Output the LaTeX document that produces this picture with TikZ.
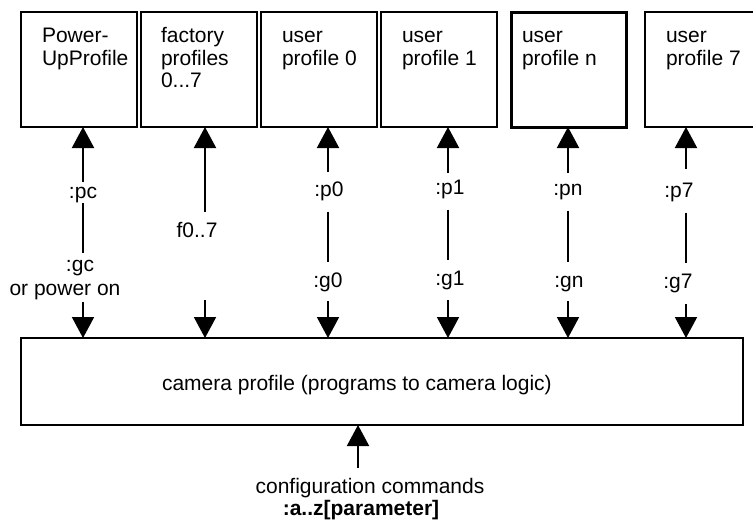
\documentclass[tikz,border=0pt]{standalone}
\usepackage{fontspec}
\setmainfont{Liberation Sans}
\usetikzlibrary{arrows.meta,calc}
\begin{document}
\begin{tikzpicture}[x=1pt,y=1pt,
  every node/.style={font=\fontsize{21}{22.5}\selectfont, inner sep=0pt, outer sep=0pt},
  pbox/.style={draw, minimum width=116pt, minimum height=115pt, anchor=north west},
  dbl/.style={line width=2.8pt},
  btxt/.style={anchor=north west, align=left},
  lbl/.style={anchor=base, text height=11pt, text depth=4.5pt},
  arr/.style={line width=2pt, -{Triangle[length=21pt,width=22pt]}},
  vline/.style={line width=1.6pt, shorten <=11pt, shorten >=14pt}]
\useasboundingbox (0,0) rectangle (753,-525);
\clip (0,0) rectangle (753,-525);
% top boxes
\node[pbox,dbl] (b1) at (21,-12) {};
\node[pbox,dbl] (b2) at (141,-12) {};
\node[pbox,dbl] (b3) at (261,-12) {};
\node[pbox,dbl] (b4) at (381,-12) {};
\node[pbox,line width=3pt,minimum width=115pt] (b5) at (511,-12) {};
\node[pbox,line width=1.8pt] (b6) at (645,-12) {};
\node[btxt] (t1) at (42,-26.75) {\strut Power-\\UpProfile};
\node[btxt] (t2) at (161,-26.75) {\strut factory\\profiles\\0...7};
\node[btxt] (t3) at (282,-26.75) {\strut user\\profile 0};
\node[btxt] (t4) at (402,-26.75) {\strut user\\profile 1};
\node[btxt] (t5) at (522,-26.75) {\strut user\\profile n};
\node[btxt] (t6) at (666,-26.75) {\strut user\\profile 7};
% camera box
\node[draw, line width=2pt, minimum width=722pt, minimum height=87pt, anchor=north west] (cam) at (21,-338) {};
\node[anchor=base west] (camt) at (162,-390) {camera profile (programs to camera logic)};
% column coordinates
\coordinate (u1) at (83,-182);
\coordinate (u2) at (205,-212);
\coordinate (u3) at (328,-172);
\coordinate (u4) at (448,-173);
\coordinate (u5) at (568,-173);
\coordinate (u6) at (686,-169);
\coordinate (d1) at (83,-302);
\coordinate (d2) at (205,-300);
\coordinate (d3) at (328,-301);
\coordinate (d4) at (448,-300);
\coordinate (d5) at (568,-301);
\coordinate (d6) at (686,-304);
% up arrows
\draw[arr] (u1) -- (u1 |- b1.south);
\draw[arr] (u2) -- (u2 |- b2.south);
\draw[arr] (u3) -- (u3 |- b3.south);
\draw[arr] (u4) -- (u4 |- b4.south);
\draw[arr] (u5) -- (u5 |- b5.south);
\draw[arr] (u6) -- (u6 |- b6.south);
% down arrows
\draw[arr] (d1) -- (d1 |- cam.north);
\draw[arr] (d2) -- (d2 |- cam.north);
\draw[arr] (d3) -- (d3 |- cam.north);
\draw[arr] (d4) -- (d4 |- cam.north);
\draw[arr] (d5) -- (d5 |- cam.north);
\draw[arr] (d6) -- (d6 |- cam.north);
% labels
\node[lbl] (pc) at (83,-198) {:pc};
\node[lbl] (gc) at (80,-271) {:gc};
\node[lbl] (pw) at (65,-295) {or power on};
\node[lbl] (f07) at (197,-237) {f0..7};
\node[lbl] (p0) at (329,-196) {:p0};
\node[lbl] (g0) at (328,-287) {:g0};
\node[lbl] (p1) at (450,-194) {:p1};
\node[lbl] (g1) at (450,-285) {:g1};
\node[lbl] (pn) at (568,-195) {:pn};
\node[lbl] (gn) at (569,-287) {:gn};
\node[lbl] (p7) at (679,-197) {:p7};
\node[lbl] (g7) at (678,-288) {:g7};
% thin links
\draw[vline, shorten <=0.5pt, shorten >=7pt] (pc.south -| d1) -- (gc.north -| d1);
\draw[vline] (p0.south -| d3) -- (g0.north -| d3);
\draw[vline] (p1.south -| d4) -- (g1.north -| d4);
\draw[vline] (pn.south -| d5) -- (gn.north -| d5);
\draw[vline] (p7.south -| d6) -- (g7.north -| d6);
% configuration
\coordinate (cf) at (358,-468);
\draw[arr] (cf) -- (cf |- cam.south);
\node[anchor=base] (cfg) at (370,-493) {configuration commands};
\node[anchor=base, font={\fontsize{21}{22.5}\selectfont\bfseries}] (cfgp) at (361,-515) {:a..z[parameter]};
\end{tikzpicture}
\end{document}
